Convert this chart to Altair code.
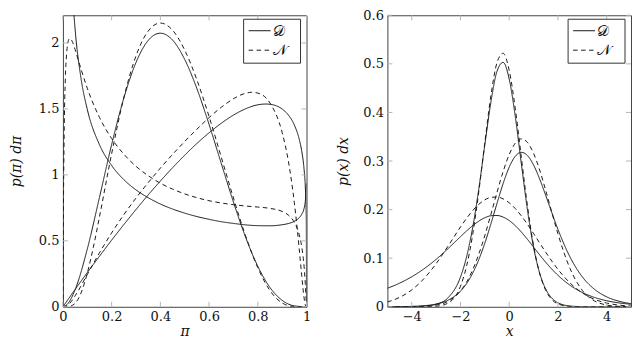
import altair as alt
import pandas as pd

# ---------------- left panel: densities over pi ----------------
# Dirichlet (solid) curves
PI_D1 = [0, 0.02, 0.05, 0.1, 0.15, 0.2, 0.25, 0.3, 0.35, 0.4, 0.45, 0.5, 0.55, 0.6,
         0.65, 0.7, 0.75, 0.8, 0.85, 0.9, 0.95, 1]
Y_D1 = [0, 0.023, 0.129, 0.437, 0.829, 1.229, 1.582, 1.852, 2.019, 2.074, 2.022, 1.875,
        1.654, 1.382, 1.087, 0.794, 0.527, 0.307, 0.146, 0.049, 0.007, 0]

PI_D2 = [0, 0.05, 0.1, 0.15, 0.2, 0.25, 0.3, 0.35, 0.4, 0.45, 0.5, 0.55, 0.6, 0.65, 0.7,
         0.75, 0.8, 0.833, 0.85, 0.9, 0.925, 0.95, 0.97, 0.98, 0.99, 0.995, 0.999, 1]
Y_D2 = [0, 0.131, 0.259, 0.383, 0.505, 0.623, 0.737, 0.848, 0.953, 1.054, 1.149, 1.238,
        1.319, 1.391, 1.453, 1.501, 1.531, 1.537, 1.535, 1.499, 1.455, 1.378, 1.270, 1.183,
        1.041, 0.910, 0.662, 0]

PI_D3 = [0.005, 0.01, 0.02, 0.03, 0.04, 0.05, 0.075, 0.1, 0.15, 0.2, 0.25, 0.3, 0.35, 0.4,
         0.45, 0.5, 0.55, 0.6, 0.65, 0.7, 0.75, 0.8, 0.85, 0.9, 0.925, 0.95, 0.97, 0.98,
         0.99, 0.995, 0.999]
Y_D3 = [6.63, 4.689, 3.319, 2.713, 2.352, 2.106, 1.724, 1.497, 1.229, 1.071, 0.964, 0.886,
        0.827, 0.779, 0.741, 0.710, 0.684, 0.663, 0.645, 0.632, 0.621, 0.615, 0.614, 0.622,
        0.631, 0.648, 0.675, 0.700, 0.746, 0.798, 0.935]

# Normal approximation (dashed) curves
PI_N1 = [0, 0.02, 0.05, 0.075, 0.1, 0.125, 0.15, 0.2, 0.25, 0.3, 0.35, 0.4, 0.45, 0.5,
         0.55, 0.6, 0.65, 0.7, 0.75, 0.8, 0.85, 0.9, 0.95, 1]
Y_N1 = [0, 0.0004, 0.026, 0.108, 0.255, 0.452, 0.681, 1.160, 1.585, 1.902, 2.090, 2.151,
        2.097, 1.946, 1.720, 1.442, 1.135, 0.825, 0.537, 0.296, 0.123, 0.029, 0.001, 0]

PI_N2 = [0, 0.02, 0.05, 0.1, 0.15, 0.2, 0.25, 0.3, 0.35, 0.4, 0.45, 0.5, 0.55, 0.6, 0.65,
         0.7, 0.75, 0.775, 0.8, 0.85, 0.9, 0.925, 0.95, 0.97, 0.98, 0.99, 0.995, 1]
Y_N2 = [0, 0.012, 0.083, 0.245, 0.409, 0.560, 0.698, 0.824, 0.941, 1.051, 1.155, 1.253,
        1.346, 1.434, 1.512, 1.577, 1.619, 1.626, 1.620, 1.545, 1.321, 1.109, 0.789, 0.439,
        0.242, 0.067, 0.013, 0]

PI_N3 = [0, 0.001, 0.002, 0.005, 0.01, 0.015, 0.02, 0.025, 0.03, 0.035, 0.04, 0.05, 0.075,
         0.1, 0.15, 0.2, 0.25, 0.3, 0.35, 0.4, 0.45, 0.5, 0.55, 0.6, 0.65, 0.7, 0.75, 0.8,
         0.85, 0.9, 0.925, 0.95, 0.96, 0.97, 0.98, 0.99, 0.995, 0.998, 1]
Y_N3 = [0, 0.370, 0.702, 1.295, 1.730, 1.914, 1.997, 2.029, 2.034, 2.024, 2.004, 1.950,
        1.798, 1.657, 1.436, 1.276, 1.157, 1.065, 0.994, 0.937, 0.892, 0.856, 0.827, 0.804,
        0.787, 0.774, 0.764, 0.756, 0.746, 0.723, 0.696, 0.641, 0.603, 0.547, 0.459, 0.305,
        0.175, 0.067, 0]

# ---------------- right panel: densities over x ----------------
X_R = [-5, -4.5, -4, -3.5, -3, -2.5, -2, -1.75, -1.5, -1.25, -1, -0.75, -0.5, -0.25, 0,
       0.25, 0.5, 0.75, 1, 1.25, 1.5, 1.75, 2, 2.5, 3, 3.5, 4, 4.5, 5]
R_D1 = [0.00002, 0.00008, 0.00032, 0.00134, 0.00527, 0.0191, 0.0612, 0.1026, 0.1627,
        0.2419, 0.3334, 0.4216, 0.4847, 0.5030, 0.4688, 0.3917, 0.2940, 0.1991, 0.1226,
        0.0693, 0.0363, 0.0178, 0.0083, 0.0016, 0.0003, 0.00004, 0.000005, 0, 0]
R_N1 = [0, 0, 0.000004, 0.00008, 0.00095, 0.0079, 0.0423, 0.0836, 0.1482, 0.2362, 0.3381,
        0.4349, 0.5025, 0.5217, 0.4866, 0.4077, 0.3069, 0.2076, 0.1261, 0.0688, 0.0338,
        0.0149, 0.0059, 0.0007, 0.00005, 0, 0, 0, 0]
R_D2 = [0.00012, 0.00031, 0.00084, 0.00219, 0.0056, 0.0138, 0.0322, 0.0477, 0.0690,
        0.0968, 0.1311, 0.1708, 0.2130, 0.2535, 0.2873, 0.3098, 0.3178, 0.3112, 0.2918,
        0.2631, 0.2291, 0.1936, 0.1596, 0.1021, 0.0617, 0.0360, 0.0205, 0.0115, 0.0064]
R_N2 = [0.000004, 0.00003, 0.00017, 0.00083, 0.0034, 0.0115, 0.0325, 0.0508, 0.0758,
        0.1080, 0.1468, 0.1904, 0.2355, 0.2781, 0.3133, 0.3368, 0.3455, 0.3382, 0.3158,
        0.2815, 0.2394, 0.1943, 0.1504, 0.0784, 0.0338, 0.0121, 0.0036, 0.0009, 0.0002]
R_D3 = [0.0381, 0.0486, 0.0618, 0.0781, 0.0976, 0.1202, 0.1443, 0.1560, 0.1669, 0.1762,
        0.1833, 0.1873, 0.1879, 0.1846, 0.1775, 0.1670, 0.1538, 0.1388, 0.1228, 0.1069,
        0.0916, 0.0775, 0.0648, 0.0442, 0.0294, 0.0193, 0.0125, 0.0080, 0.0052]
R_N3 = [0.0099, 0.0193, 0.0348, 0.0579, 0.0888, 0.1257, 0.1642, 0.1820, 0.1979, 0.2108,
        0.2201, 0.2252, 0.2259, 0.2221, 0.2140, 0.2021, 0.1870, 0.1697, 0.1508, 0.1314,
        0.1123, 0.0940, 0.0771, 0.0489, 0.0286, 0.0154, 0.0077, 0.0035, 0.0015]

# axis ticks
LEFT_XTICKS = [0, 0.2, 0.4, 0.6, 0.8, 1]
LEFT_YTICKS = [0, 0.5, 1, 1.5, 2]
RIGHT_XTICKS = [-4, -2, 0, 2, 4]
RIGHT_YTICKS = [0, 0.1, 0.2, 0.3, 0.4, 0.5, 0.6]
LEGEND_LABELS = ["\U0001D49F", "\U0001D4A9"]


def frame(xs, ys, curve, kind):
    return pd.DataFrame({"x": xs, "y": ys, "curve": curve, "kind": kind})


left_df = pd.concat([
    frame(PI_D1, Y_D1, "d1", "D"), frame(PI_D2, Y_D2, "d2", "D"), frame(PI_D3, Y_D3, "d3", "D"),
    frame(PI_N1, Y_N1, "n1", "N"), frame(PI_N2, Y_N2, "n2", "N"), frame(PI_N3, Y_N3, "n3", "N"),
])
right_df = pd.concat([
    frame(X_R, R_D1, "d1", "D"), frame(X_R, R_D2, "d2", "D"), frame(X_R, R_D3, "d3", "D"),
    frame(X_R, R_N1, "n1", "N"), frame(X_R, R_N2, "n2", "N"), frame(X_R, R_N3, "n3", "N"),
])

FONT = "DejaVu Serif"
W, H = 244, 292
LINE = "#1a1a1a"
TICK = "#b5b5b5"
DASH = [4.5, 3.5]


def panel(df, xdom, ydom, xticks, yticks, xtitle, ytitle, ytitle_pad):
    xs = alt.Scale(domain=xdom, nice=False, zero=False)
    ys = alt.Scale(domain=ydom, nice=False, zero=False)
    xax = alt.Axis(values=xticks, format="~g", title=xtitle, titlePadding=1)
    yax = alt.Axis(values=yticks, format="~g", title=ytitle, titlePadding=ytitle_pad)
    xenc = alt.X("x:Q", scale=xs, axis=xax)
    yenc = alt.Y("y:Q", scale=ys, axis=yax)
    lines = alt.Chart(df).mark_line(clip=True, interpolate="monotone", color=LINE,
                                    strokeWidth=1).encode(
        x=xenc,
        y=yenc,
        strokeDash=alt.StrokeDash("kind:N", scale=alt.Scale(domain=["D", "N"],
                                                            range=[[1, 0], DASH]),
                                  legend=None),
        detail="curve:N",
    )
    xt = pd.DataFrame({"x": xticks})
    yt = pd.DataFrame({"y": yticks})
    tb = alt.Chart(xt).mark_rule(color=TICK, strokeWidth=1).encode(
        x=xenc, y=alt.value(H), y2=alt.value(H - 5))
    tt = alt.Chart(xt).mark_rule(color=TICK, strokeWidth=1).encode(
        x=xenc, y=alt.value(0), y2=alt.value(5))
    tl = alt.Chart(yt).mark_rule(color=TICK, strokeWidth=1).encode(
        y=yenc, x=alt.value(0), x2=alt.value(5))
    tr = alt.Chart(yt).mark_rule(color=TICK, strokeWidth=1).encode(
        y=yenc, x=alt.value(W - 5), x2=alt.value(W))

    one = pd.DataFrame({"a": [0]})
    bx0, bx1 = W - 63, W - 6
    box = alt.Chart(one).mark_rect(fill="white", stroke="#333", strokeWidth=1).encode(
        x=alt.value(bx0), x2=alt.value(bx1), y=alt.value(4), y2=alt.value(48))
    ls = alt.Chart(one).mark_rule(color=LINE, strokeWidth=1).encode(
        x=alt.value(bx0 + 5), x2=alt.value(bx0 + 27), y=alt.value(15.5), y2=alt.value(15.5))
    ld = alt.Chart(one).mark_rule(color=LINE, strokeWidth=1, strokeDash=DASH).encode(
        x=alt.value(bx0 + 5), x2=alt.value(bx0 + 27), y=alt.value(35), y2=alt.value(35))
    t1 = alt.Chart(one).mark_text(align="left", baseline="middle", font=FONT, fontSize=15,
                                  color="#111").encode(
        x=alt.value(bx0 + 29), y=alt.value(15.5), text=alt.value(LEGEND_LABELS[0]))
    t2 = alt.Chart(one).mark_text(align="left", baseline="middle", font=FONT, fontSize=15,
                                  color="#111").encode(
        x=alt.value(bx0 + 29), y=alt.value(35), text=alt.value(LEGEND_LABELS[1]))
    return alt.layer(lines, tb, tt, tl, tr, box, ls, ld, t1, t2).properties(width=W, height=H)


left = panel(left_df, [0, 1], [0, 2.21], LEFT_XTICKS, LEFT_YTICKS, "\u03c0",
             "p(\u03c0) d\u03c0", 15)
right = panel(right_df, [-5, 5], [0, 0.6], RIGHT_XTICKS, RIGHT_YTICKS, "x",
              "p(x) dx", 12)

chart = alt.hconcat(left, right, spacing=24).properties(
    padding={"left": 0, "right": 0, "top": 0, "bottom": 0}
).configure_view(
    stroke="#444", strokeWidth=1
).configure_axis(
    domain=False, ticks=False, grid=False,
    labelFont=FONT, labelFontSize=13, labelColor="#111", labelPadding=4,
    labelFlush=False, labelOverlap=False,
    titleFont=FONT, titleFontSize=14, titleFontWeight="normal", titleFontStyle="italic",
    titleColor="#111",
)

chart.save("out.html", embed_options={"renderer": "svg", "actions": False})
